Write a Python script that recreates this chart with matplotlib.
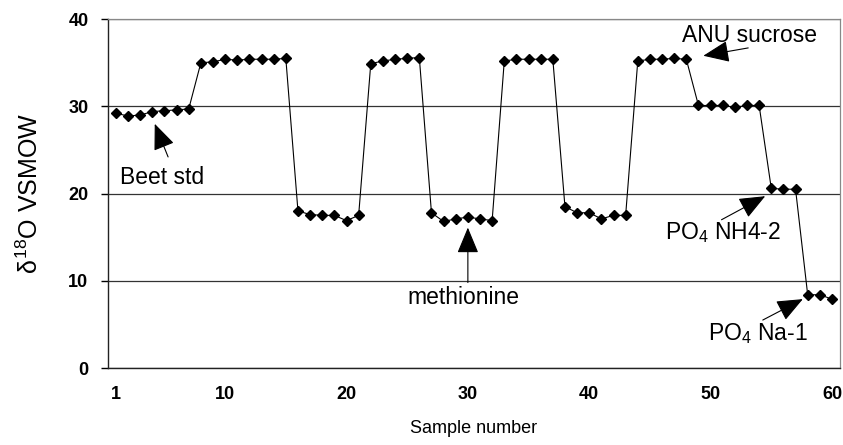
import matplotlib
matplotlib.use("Agg")
import matplotlib.pyplot as plt
from matplotlib.ticker import FixedLocator

plt.rcParams['font.family'] = ['Liberation Sans', 'DejaVu Sans']
plt.rcParams['mathtext.fontset'] = 'custom'
plt.rcParams['mathtext.rm'] = 'Liberation Sans'
plt.rcParams['mathtext.it'] = 'Liberation Sans'

# delta 18O values, samples 1..60
sample = list(range(1, 61))
d18o = [29.2, 28.9, 29.0, 29.4, 29.5, 29.6, 29.7,                 # beet std
        35.0, 35.1, 35.4, 35.3, 35.4, 35.4, 35.4, 35.5,           # sucrose
        18.0, 17.6, 17.5, 17.5, 16.9, 17.5,                       # methionine
        34.9, 35.2, 35.4, 35.5, 35.6,
        17.8, 16.8, 17.1, 17.3, 17.1, 16.9,
        35.2, 35.4, 35.4, 35.4, 35.4,
        18.5, 17.8, 17.8, 17.1, 17.5, 17.5,
        35.2, 35.4, 35.4, 35.5, 35.4,
        30.1, 30.1, 30.1, 29.9, 30.1, 30.1,                       # beet std
        20.6, 20.5, 20.5,                                         # PO4 NH4-2
        8.4, 8.4, 7.9]                                            # PO4 Na-1

x_ticks = [1, 10, 20, 30, 40, 50, 60]
y_ticks = [0, 10, 20, 30, 40]

# labels: text, text position, arrow head, arrow tail (data coords)
labels = [
    ("Beet std", (4.8, 21.9), (4.2, 28.0), (5.3, 24.2)),
    ("methionine", (29.6, 8.1), (30.0, 16.1), (30.0, 9.8)),
    ("ANU sucrose", (53.2, 38.1), (49.4, 35.8), (53.1, 36.7)),
    ("PO$_4$ NH4-2", (51.0, 15.5), (54.5, 19.7), (50.9, 17.0)),
    ("PO$_4$ Na-1", (53.9, 3.9), (57.6, 7.9), (54.3, 5.5)),
]

fig = plt.figure(figsize=(8.43, 4.45), dpi=100)
ax = fig.add_axes([0.128, 0.173, 0.8684, 0.784])

ax.plot(sample, d18o, color='black', lw=0.8, marker='D', ms=5,
        mfc='black', mec='black', zorder=3)

ax.set_xlim(0.34, 60.66)
ax.set_ylim(0, 40)
ax.xaxis.set_major_locator(FixedLocator(x_ticks))
ax.yaxis.set_major_locator(FixedLocator(y_ticks))
ax.grid(axis='y', color='#333333', lw=0.9)
ax.set_axisbelow(True)

for side in ('top', 'right'):
    ax.spines[side].set_color('#888888')
    ax.spines[side].set_linewidth(0.9)
for side in ('left', 'bottom'):
    ax.spines[side].set_color('#222222')
    ax.spines[side].set_linewidth(1.0)

tick_font = dict(family=['Liberation Sans Narrow', 'Liberation Sans'],
                 weight='bold', size=13)
ax.tick_params(axis='y', direction='out', length=5, width=1.0, pad=9)
ax.tick_params(axis='x', length=0, pad=13)
for lab in ax.get_xticklabels() + ax.get_yticklabels():
    lab.set_fontproperties(tick_font)

ax.set_xlabel('Sample number', fontsize=13, labelpad=12)
ax.set_ylabel(r'$\delta^{18}$O VSMOW', fontsize=18, labelpad=18)

for text, tpos, head, tail in labels:
    ax.annotate('', xy=head, xytext=tail,
                arrowprops=dict(arrowstyle='-|>,head_length=0.65,head_width=0.27',
                                mutation_scale=25, color='black', lw=0.8,
                                shrinkA=0, shrinkB=0))
    ax.text(tpos[0], tpos[1], text, fontsize=16.5, ha='center', va='center')

fig.savefig('out.png', dpi=100)
